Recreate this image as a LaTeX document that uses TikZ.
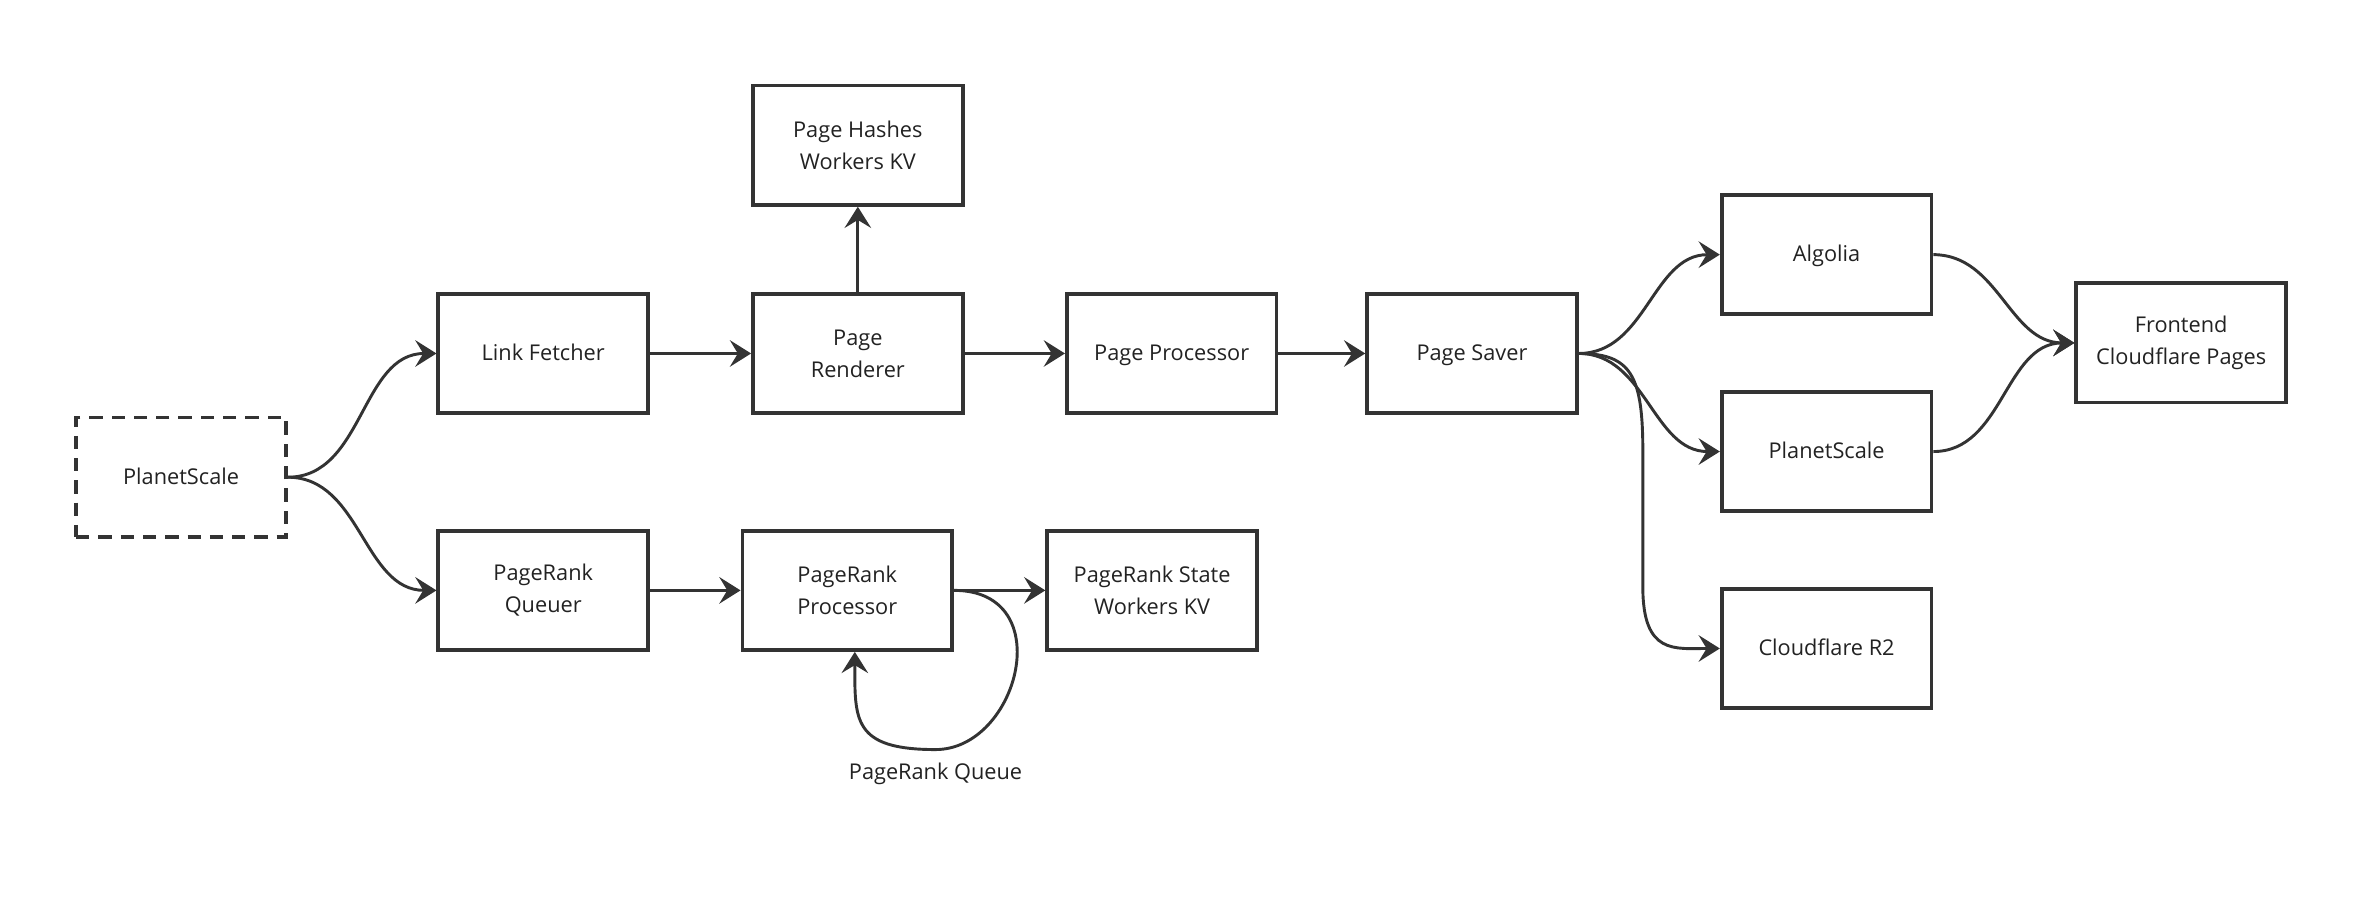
\documentclass[tikz,border=0pt]{standalone}
\usepackage{fontspec}
\setmainfont{Open Sans}
\usepackage{tikz}
\usetikzlibrary{arrows.meta,positioning,calc}
\definecolor{lineGray}{HTML}{333333}
\definecolor{textGray}{HTML}{222222}

\begin{document}
\begin{tikzpicture}[
  box/.style={draw=lineGray, line width=1.4pt, minimum width=2.78cm, minimum height=1.58cm,
    align=center, text=textGray, font=\fontsize{8.2}{12}\selectfont, inner sep=0pt},
  oneline/.style={box, text height=0.72em, text depth=0.2em},
  dbox/.style={oneline, dash pattern=on 5pt off 3.4pt},
  arr/.style={draw=lineGray, line width=1.1pt, -{Stealth[length=8pt,width=10pt,inset=3pt]}}
]
\useasboundingbox (0,0) rectangle (31.36,12.195);

% sources
\node[dbox] (ps) at (2.4,5.87) {PlanetScale};
\node[oneline] (fetch) at (7.2,7.51) {Link Fetcher};
\node[box] (queuer) at (7.2,4.37) {PageRank\\Queuer};

% page pipeline
\node[box] (render) at (11.37,7.51) {Page\\Renderer};
\node[box] (hashes) at (11.37,10.27) {Page Hashes\\Workers KV};
\node[oneline] (proc) at (15.53,7.51) {Page Processor};
\node[oneline] (saver) at (19.51,7.51) {Page Saver};

% pagerank
\node[box] (prproc) at (11.23,4.37) {PageRank\\Processor};
\node[box] (prstate) at (15.27,4.37) {PageRank State\\Workers KV};
\coordinate (qbot) at (12.4,2.26);
\node[text=textGray, font=\fontsize{8.2}{12}\selectfont, below=0.06 of qbot] (qlabel) {PageRank Queue};

% storage
\node[oneline] (algolia) at (24.21,8.82) {Algolia};
\node[oneline] (ps2) at (24.21,6.21) {PlanetScale};
\node[oneline] (r2) at (24.21,3.6) {Cloudflare R2};
\node[box] (front) at (28.91,7.65) {Frontend\\Cloudflare Pages};

\draw[arr] (ps.east) to[out=0,in=180] (fetch.west);
\draw[arr] (ps.east) to[out=0,in=180] (queuer.west);
\draw[arr] (fetch) -- (render);
\draw[arr] (render) -- (hashes);
\draw[arr] (render) -- (proc);
\draw[arr] (proc) -- (saver);
\draw[arr] (queuer) -- (prproc);
\draw[arr] (prproc) -- (prstate);
\draw[arr] (prproc.east) .. controls +(1.4,0) and +(1.1,0) .. (qbot)
  .. controls +(-1.1,0) and +(0,-0.9) .. ([xshift=1mm]prproc.south);

\draw[arr] (saver.east) to[out=0,in=180] (algolia.west);
\draw[arr] (saver.east) to[out=0,in=180] (ps2.west);
\draw[arr] (saver.east) .. controls +(0.7,0) and +(0,1.0) .. ([xshift=0.85cm]saver.east |- ps2.west)
  -- ([xshift=0.85cm]saver.east |- r2.north) .. controls +(0,-0.9) and +(-0.6,0) .. (r2.west);
\draw[arr] (algolia.east) to[out=0,in=180] (front.west);
\draw[arr] (ps2.east) to[out=0,in=180] (front.west);
\end{tikzpicture}
\end{document}
